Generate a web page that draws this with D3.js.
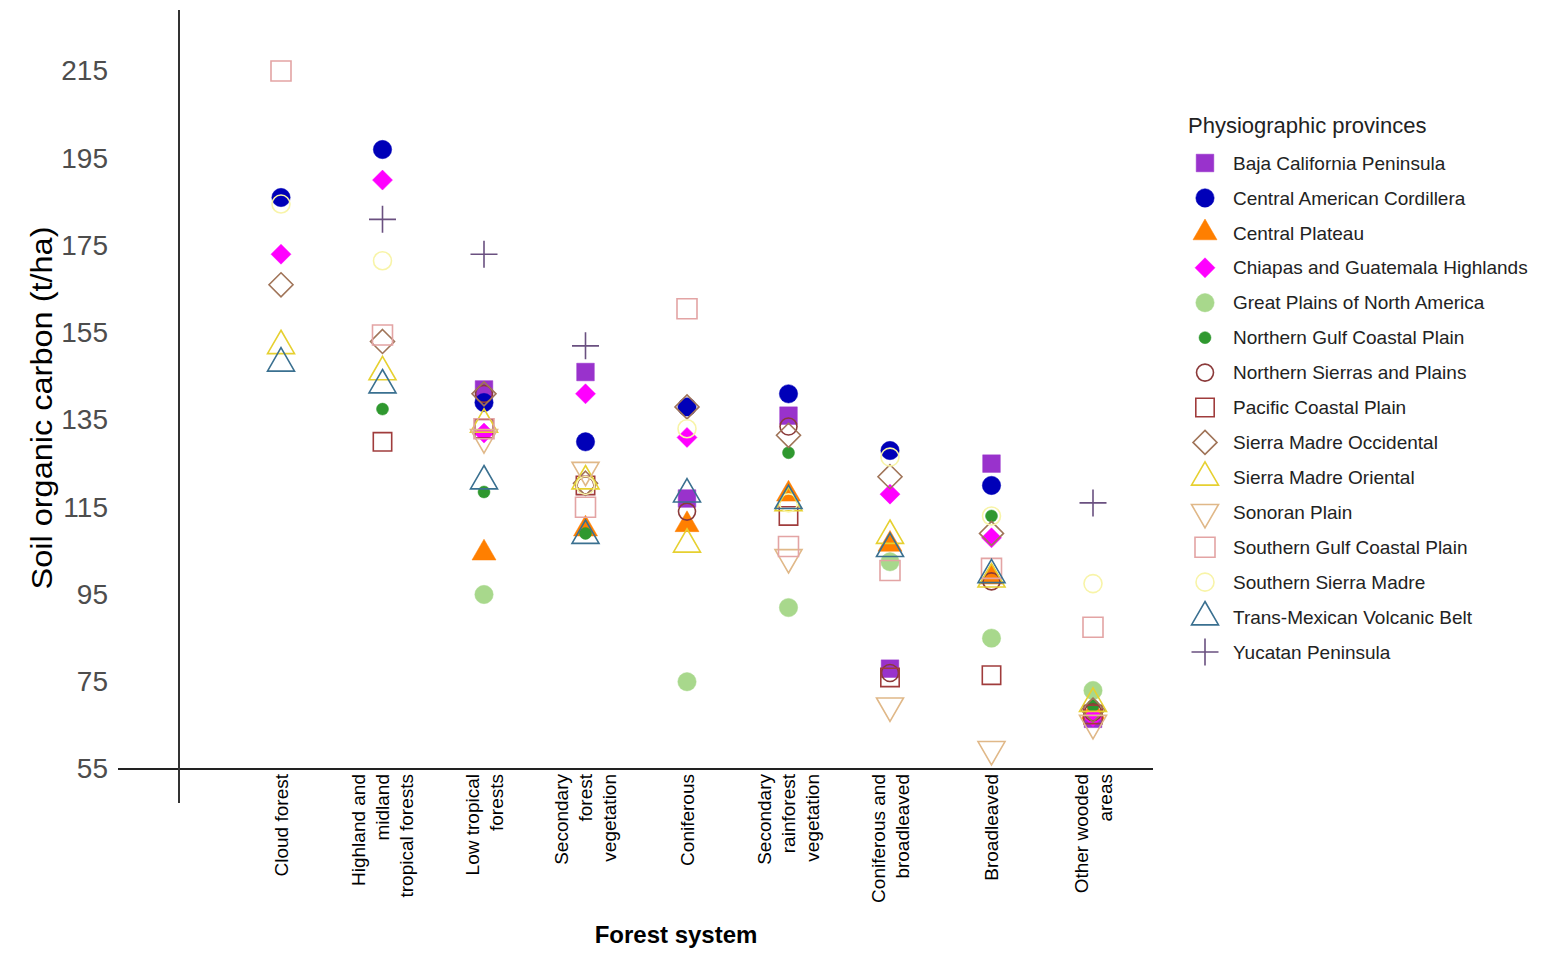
<!DOCTYPE html>
<html lang="en">
    <head>
        <meta charset="utf-8">
        <title>Soil organic carbon by forest system</title>
        <script type="text/javascript" src="https://cdn.jsdelivr.net/npm/d3@7"></script>
        <style>
            body { margin: 0; background: white; }
            text { font-family: "Liberation Sans", Arial, sans-serif; }
        </style>
    </head>
    <body>
        <script type="text/javascript">

          // forest systems on the x axis, label lines as drawn
          var categories = ["Cloud forest", "Highland and midland tropical forests",
                            "Low tropical forests", "Secondary forest vegetation",
                            "Coniferous", "Secondary rainforest vegetation",
                            "Coniferous and broadleaved", "Broadleaved", "Other wooded areas"];
          var categoryLines = [["Cloud forest"], ["Highland and", "midland", "tropical forests"],
                               ["Low tropical", "forests"], ["Secondary", "forest", "vegetation"],
                               ["Coniferous"], ["Secondary", "rainforest", "vegetation"],
                               ["Coniferous and", "broadleaved"], ["Broadleaved"],
                               ["Other wooded", "areas"]];

          // y ticks
          var yTicks = [55, 75, 95, 115, 135, 155, 175, 195, 215];

          // provinces (legend order)
          var provinces = ["Baja California Peninsula", "Central American Cordillera",
                           "Central Plateau", "Chiapas and Guatemala Highlands",
                           "Great Plains of North America", "Northern Gulf Coastal Plain",
                           "Northern Sierras and Plains", "Pacific Coastal Plain",
                           "Sierra Madre Occidental", "Sierra Madre Oriental", "Sonoran Plain",
                           "Southern Gulf Coastal Plain", "Southern Sierra Madre",
                           "Trans-Mexican Volcanic Belt", "Yucatan Peninsula"];

          // soil organic carbon (t/ha), one value per forest system, null = not present
          var bajaCalifornia     = [null, null, 142, 146, 117, 136, 78, 125, 66.5];
          var centralAmerican    = [186, 197, 139, 130, 138, 141, 128, 120, null];
          var centralPlateau     = [null, null, 104.5, 110, 111, 118, 106.5, 99, 68];
          var chiapasGuatemala   = [173, 190, 132, 141, 131, null, 118, 108, 67];
          var greatPlains        = [null, null, 95, null, 75, 92, 102.5, 85, 73];
          var northernGulf       = [null, 137.5, 118.5, 109, null, 127.5, null, 113, 69.5];
          var northernSierras    = [null, null, 141, 120, 114, 133.5, 77, 98, 68];
          var pacificCoastal     = [null, 130, 133, 120, null, 113, 76, 76.5, 67.5];
          var madreOccidental    = [166, 153, 141, 120.5, 138, 131.5, 122, 109, 68.5];
          var madreOriental      = [152, 146, 134, 121, 106.5, 116, 108.5, 98.5, 70];
          var sonoranPlain       = [null, null, 131, 123.5, null, 103.5, 69.5, 59.5, 65.5];
          var southernGulf       = [215, 154.5, 133, 115, 160.5, 106, 100.5, 101, 87.5];
          var southernSierra     = [184.5, 171.5, null, 120, 133, 116, 126.5, 113, 97.5];
          var transMexican       = [148, 143, 121, 108.5, 118, 116.5, 105.5, 99.5, null];
          var yucatan            = [null, 181, 173, 152, null, null, null, null, 116];

          var seriesValues = [bajaCalifornia, centralAmerican, centralPlateau, chiapasGuatemala,
                              greatPlains, northernGulf, northernSierras, pacificCoastal,
                              madreOccidental, madreOriental, sonoranPlain, southernGulf,
                              southernSierra, transMexican, yucatan];

          // marker style per province
          var styles = [
            {shape: "square",   r: 8.8, color: "#9932CC", fill: true},
            {shape: "circle",   r: 9.2, color: "#0000B8", fill: true},
            {shape: "triangle", r: 24,  color: "#FF7F00", fill: true},
            {shape: "diamond",  r: 10,  color: "#FF00FF", fill: true},
            {shape: "circle",   r: 9.2, color: "#A8D88C", fill: true},
            {shape: "circle",   r: 6,   color: "#2F982F", fill: true},
            {shape: "circle",   r: 8.5, color: "#8B3A3A", fill: false},
            {shape: "square",   r: 9.2, color: "#A03C3C", fill: false},
            {shape: "diamond",  r: 12,  color: "#A07458", fill: false},
            {shape: "triangle", r: 27,  color: "#E6D030", fill: false},
            {shape: "down",     r: 27,  color: "#E0B888", fill: false},
            {shape: "square",   r: 10,  color: "#E3A4A4", fill: false},
            {shape: "circle",   r: 9,   color: "#F8F4A8", fill: false},
            {shape: "triangle", r: 27,  color: "#3A7090", fill: false},
            {shape: "plus",     r: 13.5, color: "#6A5080", fill: false}
          ];

          var width = 1542;
          var height = 960;

          var svg = d3.select("body")
            .append("svg")
            .attr("width", width)
            .attr("height", height);

          // scales
          var xScale = d3.scalePoint()
                         .domain(categories)
                         .range([281, 1093]);
          var yScale = d3.scaleLinear()
                         .domain([55, 215])
                         .range([769, 71]);

          // path for each marker shape, centred on 0,0
          function shapePath(shape, r) {
            if (shape == "square") {
              return "M" + (-r) + "," + (-r) + "h" + 2 * r + "v" + 2 * r + "h" + (-2 * r) + "Z";
            }
            if (shape == "circle") {
              return d3.arc()({innerRadius: 0, outerRadius: r, startAngle: 0, endAngle: 2 * Math.PI});
            }
            if (shape == "diamond") {
              return "M0," + (-r) + "L" + r + ",0L0," + r + "L" + (-r) + ",0Z";
            }
            if (shape == "triangle" || shape == "down") {
              var h = r * Math.sqrt(3) / 2;
              var s = shape == "down" ? -1 : 1;
              return "M0," + (-s * 2 * h / 3) + "L" + r / 2 + "," + (s * h / 3) +
                     "L" + (-r / 2) + "," + (s * h / 3) + "Z";
            }
            // plus
            return "M" + (-r) + ",0H" + r + "M0," + (-r) + "V" + r;
          }

          // axis lines
          svg.append("line")
             .attr("x1", 118).attr("x2", 1153)
             .attr("y1", yScale(55)).attr("y2", yScale(55))
             .attr("stroke", "#222")
             .attr("stroke-width", 1.8);
          svg.append("line")
             .attr("x1", 179).attr("x2", 179)
             .attr("y1", 10).attr("y2", 803)
             .attr("stroke", "#333")
             .attr("stroke-width", 2);

          // y tick labels
          var yAxis = d3.axisLeft(yScale)
                        .tickValues(yTicks)
                        .tickSize(0)
                        .tickPadding(0);
          var yAxisG = svg.append("g")
             .attr("transform", "translate(108,0)")
             .call(yAxis);
          yAxisG.select(".domain").remove();
          yAxisG.selectAll("text")
             .attr("font-family", "Liberation Sans, Arial, sans-serif")
             .attr("font-size", 28)
             .attr("fill", "#4D4D4D");

          // x category labels, rotated
          var catG = svg.selectAll(".cat")
             .data(categories)
             .enter()
             .append("g")
             .attr("class", "cat");
          catG.each(function(d, i) {
            var lines = categoryLines[i];
            var g = d3.select(this);
            lines.forEach(function(line, j) {
              var dx = (j - (lines.length - 1) / 2) * 24;
              g.append("text")
               .attr("transform", "translate(" + [xScale(d) + dx, 774] + ") rotate(-90)")
               .attr("dy", "0.35em")
               .attr("text-anchor", "end")
               .attr("font-size", 19)
               .attr("fill", "#000")
               .text(line);
            });
          });

          // markers
          seriesValues.forEach(function(values, k) {
            var st = styles[k];
            var pts = [];
            values.forEach(function(v, i) {
              if (v != null) pts.push({cat: categories[i], value: v});
            });
            svg.append("g")
               .selectAll("path")
               .data(pts)
               .enter()
               .append("path")
               .attr("transform", function(d) {
                 return "translate(" + [xScale(d.cat), yScale(d.value)] + ")";
               })
               .attr("d", shapePath(st.shape, st.r))
               .attr("fill", st.fill ? st.color : "none")
               .attr("stroke", st.color)
               .attr("stroke-width", st.fill ? 0.5 : 1.6);
          });

          // axis titles
          svg.append("text")
             .attr("transform", "translate(" + [52, 408] + ") rotate(-90)")
             .attr("text-anchor", "middle")
             .attr("font-size", 30)
             .attr("textLength", 363)
             .attr("lengthAdjust", "spacingAndGlyphs")
             .attr("fill", "#000")
             .text("Soil organic carbon (t/ha)");

          svg.append("text")
             .attr("x", 676)
             .attr("y", 943)
             .attr("text-anchor", "middle")
             .attr("font-size", 24)
             .attr("font-weight", "bold")
             .attr("fill", "#000")
             .text("Forest system");

          // legend
          var legend = svg.append("g")
             .attr("transform", "translate(1188,0)");
          legend.append("text")
             .attr("x", 0)
             .attr("y", 133)
             .attr("font-size", 22)
             .attr("fill", "#222")
             .text("Physiographic provinces");

          var items = legend.selectAll(".item")
             .data(provinces)
             .enter()
             .append("g")
             .attr("class", "item")
             .attr("transform", function(d, i) {
               return "translate(" + [0, 163 + i * 34.93] + ")";
             });
          items.append("path")
             .attr("transform", "translate(17,0)")
             .attr("d", function(d, i) { return shapePath(styles[i].shape, styles[i].r); })
             .attr("fill", function(d, i) { return styles[i].fill ? styles[i].color : "none"; })
             .attr("stroke", function(d, i) { return styles[i].color; })
             .attr("stroke-width", function(d, i) { return styles[i].fill ? 0.5 : 1.6; });
          items.append("text")
             .attr("x", 45)
             .attr("dy", "0.35em")
             .attr("font-size", 19)
             .attr("fill", "#222")
             .text(function(d) { return d; });
        </script>
    </body>
</html>
